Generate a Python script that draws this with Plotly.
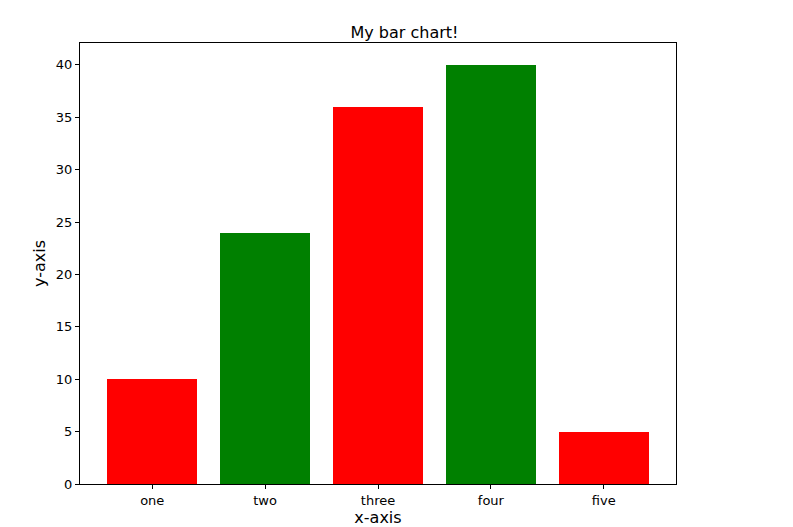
import plotly.graph_objects as go

categories = ["one", "two", "three", "four", "five"]
values = [10, 24, 36, 40, 5]
colors = ["red", "green", "red", "green", "red"]

fig = go.Figure(go.Bar(x=list(range(len(categories))), y=values,
                       marker=dict(color=colors, line=dict(width=0)), width=0.8))

axis_style = dict(showline=True, linecolor="black", linewidth=1, mirror=True,
                  ticks="outside", ticklen=4, tickcolor="black", showgrid=False,
                  zeroline=False, tickfont=dict(size=13, color="black"))

fig.update_layout(
    width=793, height=527,
    plot_bgcolor="white", paper_bgcolor="white",
    font=dict(family="DejaVu Sans", size=13, color="black"),
    title=dict(text="My bar chart!", x=0.5, xanchor="center", y=0.965, font=dict(size=16)),
    margin=dict(l=72, r=125, t=35, b=49),
    showlegend=False,
    bargap=0,
)
fig.update_xaxes(axis_style, range=[-0.64, 4.64], tickvals=list(range(len(categories))),
                 ticktext=categories, title=dict(text="x-axis", standoff=4))
fig.update_yaxes(axis_style, range=[0, 42.09], tickvals=list(range(0, 41, 5)),
                 title=dict(text="y-axis", standoff=6))

fig.write_html("out.html")
